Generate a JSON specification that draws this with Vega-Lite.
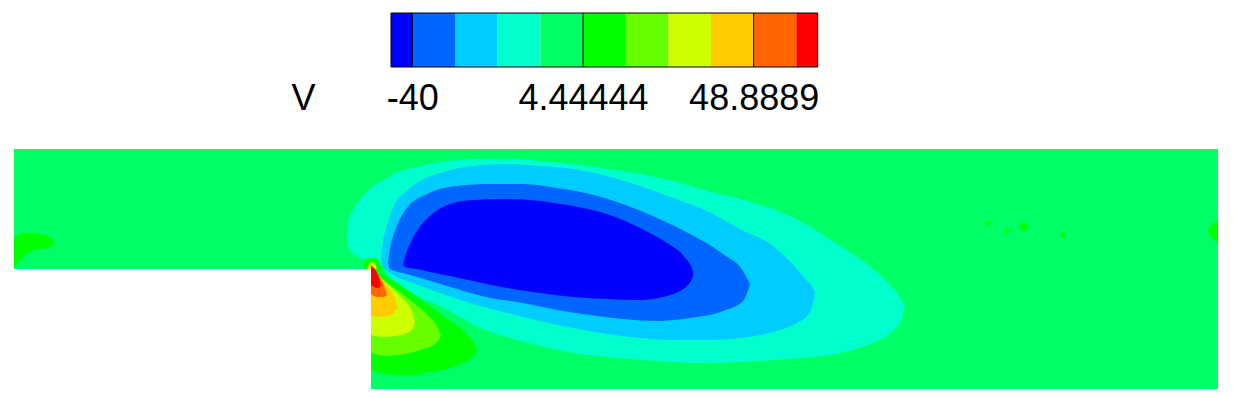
{
  "$schema": "https://vega.github.io/schema/vega-lite/v6.json",
  "background": "white",
  "padding": {"left": 14, "top": 12, "right": 0, "bottom": 0},
  "spacing": 82,
  "bounds": "flush",
  "config": {
    "view": {"stroke": null},
    "font": "Liberation Sans",
    "axisX": {
      "labelFont": "Liberation Sans",
      "labelFontSize": 36,
      "labelColor": "black",
      "labelBaseline": "alphabetic",
      "labelPadding": 42.5,
      "labelFlush": false,
      "labelOverlap": false,
      "labelBound": false,
      "ticks": false,
      "tickSize": 0,
      "domain": false,
      "grid": false,
      "titleFont": "Liberation Sans",
      "titleFontSize": 36,
      "titleFontWeight": "normal",
      "titleColor": "black",
      "titleAngle": 0,
      "titleAlign": "center",
      "titleBaseline": "alphabetic",
      "titleX": 289,
      "titleY": 42.5
    }
  },
  "datasets": {
    "bar": [
      {"band": 1, "v0": -45.556, "v1": -40},
      {"band": 2, "v0": -40, "v1": -28.889},
      {"band": 3, "v0": -28.889, "v1": -17.778},
      {"band": 4, "v0": -17.778, "v1": -6.667},
      {"band": 5, "v0": -6.667, "v1": 4.444},
      {"band": 6, "v0": 4.444, "v1": 15.556},
      {"band": 7, "v0": 15.556, "v1": 26.667},
      {"band": 8, "v0": 26.667, "v1": 37.778},
      {"band": 9, "v0": 37.778, "v1": 48.889},
      {"band": 10, "v0": 48.889, "v1": 60},
      {"band": 11, "v0": 60, "v1": 65.556}
    ],
    "field": [
      {"z": "bg", "b": 5, "x": -35.7, "xe": 0, "y": 12, "y2": 0},
      {"z": "bg", "b": 5, "x": 0, "xe": 84.7, "y": 12, "y2": -12},

      {"z": "aq", "b": 4, "x": -2.43, "y": 3.2, "y2": 3.2},
      {"z": "aq", "b": 4, "x": -2.3, "y": 4.6, "y2": 2.2},
      {"z": "aq", "b": 4, "x": -1.9, "y": 5.7, "y2": 1.7},
      {"z": "aq", "b": 4, "x": -1.3, "y": 6.7, "y2": 1.2},
      {"z": "aq", "b": 4, "x": -0.7, "y": 7.4, "y2": 1.0},
      {"z": "aq", "b": 4, "x": 0, "y": 8.1, "y2": 1.1},
      {"z": "aq", "b": 4, "x": 0.7, "y": 8.6, "y2": 0.9},
      {"z": "aq", "b": 4, "x": 1.2, "y": 8.9, "y2": 0.2},
      {"z": "aq", "b": 4, "x": 1.9, "y": 9.3, "y2": -0.9},
      {"z": "aq", "b": 4, "x": 2.6, "y": 9.7, "y2": -1.7},
      {"z": "aq", "b": 4, "x": 3.6, "y": 10.0, "y2": -2.3},
      {"z": "aq", "b": 4, "x": 4.9, "y": 10.3, "y2": -2.9},
      {"z": "aq", "b": 4, "x": 6.9, "y": 10.7, "y2": -3.7},
      {"z": "aq", "b": 4, "x": 8.9, "y": 10.9, "y2": -4.8},
      {"z": "aq", "b": 4, "x": 10.9, "y": 11.0, "y2": -5.9},
      {"z": "aq", "b": 4, "x": 13.6, "y": 11.0, "y2": -6.8},
      {"z": "aq", "b": 4, "x": 16.9, "y": 10.8, "y2": -7.7},
      {"z": "aq", "b": 4, "x": 20.2, "y": 10.5, "y2": -8.4},
      {"z": "aq", "b": 4, "x": 23.6, "y": 10.0, "y2": -8.8},
      {"z": "aq", "b": 4, "x": 26.9, "y": 9.5, "y2": -9.1},
      {"z": "aq", "b": 4, "x": 30.2, "y": 8.8, "y2": -9.3},
      {"z": "aq", "b": 4, "x": 33.6, "y": 7.8, "y2": -9.4},
      {"z": "aq", "b": 4, "x": 36.9, "y": 7.0, "y2": -9.3},
      {"z": "aq", "b": 4, "x": 41.9, "y": 5.3, "y2": -9.0},
      {"z": "aq", "b": 4, "x": 46.9, "y": 2.3, "y2": -8.4},
      {"z": "aq", "b": 4, "x": 50.2, "y": 0.0, "y2": -7.4},
      {"z": "aq", "b": 4, "x": 51.6, "y": -1.3, "y2": -6.7},
      {"z": "aq", "b": 4, "x": 52.4, "y": -2.2, "y2": -6.0},
      {"z": "aq", "b": 4, "x": 52.9, "y": -2.9, "y2": -5.4},
      {"z": "aq", "b": 4, "x": 53.4, "y": -3.7, "y2": -3.7},

      {"z": "lb", "b": 3, "x": 1.0, "y": 1.2, "y2": 1.2},
      {"z": "lb", "b": 3, "x": 1.2, "y": 2.8, "y2": 0.2},
      {"z": "lb", "b": 3, "x": 1.5, "y": 4.0, "y2": -0.1},
      {"z": "lb", "b": 3, "x": 2.2, "y": 6.1, "y2": -0.6},
      {"z": "lb", "b": 3, "x": 3.9, "y": 8.1, "y2": -1.3},
      {"z": "lb", "b": 3, "x": 6.9, "y": 9.6, "y2": -2.4},
      {"z": "lb", "b": 3, "x": 10.2, "y": 10.3, "y2": -3.5},
      {"z": "lb", "b": 3, "x": 13.6, "y": 10.5, "y2": -4.4},
      {"z": "lb", "b": 3, "x": 16.9, "y": 10.3, "y2": -5.2},
      {"z": "lb", "b": 3, "x": 20.2, "y": 10.0, "y2": -5.9},
      {"z": "lb", "b": 3, "x": 23.6, "y": 9.3, "y2": -6.5},
      {"z": "lb", "b": 3, "x": 26.9, "y": 8.3, "y2": -6.9},
      {"z": "lb", "b": 3, "x": 30.2, "y": 7.1, "y2": -7.1},
      {"z": "lb", "b": 3, "x": 33.6, "y": 5.8, "y2": -7.1},
      {"z": "lb", "b": 3, "x": 36.9, "y": 4.0, "y2": -6.9},
      {"z": "lb", "b": 3, "x": 40.2, "y": 2.3, "y2": -6.3},
      {"z": "lb", "b": 3, "x": 42.6, "y": 0.0, "y2": -5.4},
      {"z": "lb", "b": 3, "x": 43.6, "y": -1.2, "y2": -4.7},
      {"z": "lb", "b": 3, "x": 44.2, "y": -1.9, "y2": -3.4},
      {"z": "lb", "b": 3, "x": 44.4, "y": -2.4, "y2": -2.4},

      {"z": "mb", "b": 2, "x": 1.7, "y": 0.6, "y2": 0.6},
      {"z": "mb", "b": 2, "x": 1.9, "y": 2.0, "y2": 0.0},
      {"z": "mb", "b": 2, "x": 2.4, "y": 3.8, "y2": -0.2},
      {"z": "mb", "b": 2, "x": 3.6, "y": 6.1, "y2": -0.5},
      {"z": "mb", "b": 2, "x": 5.6, "y": 7.5, "y2": -1.1},
      {"z": "mb", "b": 2, "x": 8.6, "y": 8.3, "y2": -2.0},
      {"z": "mb", "b": 2, "x": 11.9, "y": 8.5, "y2": -2.9},
      {"z": "mb", "b": 2, "x": 15.2, "y": 8.5, "y2": -3.4},
      {"z": "mb", "b": 2, "x": 18.6, "y": 8.1, "y2": -4.1},
      {"z": "mb", "b": 2, "x": 21.9, "y": 7.5, "y2": -4.6},
      {"z": "mb", "b": 2, "x": 25.2, "y": 6.5, "y2": -5.0},
      {"z": "mb", "b": 2, "x": 28.6, "y": 5.1, "y2": -5.2},
      {"z": "mb", "b": 2, "x": 31.9, "y": 3.5, "y2": -4.9},
      {"z": "mb", "b": 2, "x": 35.2, "y": 1.5, "y2": -4.2},
      {"z": "mb", "b": 2, "x": 37.2, "y": -0.2, "y2": -3.2},
      {"z": "mb", "b": 2, "x": 37.9, "y": -1.5, "y2": -1.5},

      {"z": "db", "b": 1, "x": 3.2, "y": 0.4, "y2": 0.4},
      {"z": "db", "b": 1, "x": 3.4, "y": 1.2, "y2": 0.2},
      {"z": "db", "b": 1, "x": 3.9, "y": 2.5, "y2": 0.1},
      {"z": "db", "b": 1, "x": 4.6, "y": 3.8, "y2": 0.0},
      {"z": "db", "b": 1, "x": 5.9, "y": 5.3, "y2": -0.3},
      {"z": "db", "b": 1, "x": 7.9, "y": 6.5, "y2": -0.7},
      {"z": "db", "b": 1, "x": 10.2, "y": 6.9, "y2": -1.2},
      {"z": "db", "b": 1, "x": 13.6, "y": 7.0, "y2": -1.9},
      {"z": "db", "b": 1, "x": 16.9, "y": 6.8, "y2": -2.4},
      {"z": "db", "b": 1, "x": 20.2, "y": 6.3, "y2": -2.8},
      {"z": "db", "b": 1, "x": 23.6, "y": 5.5, "y2": -3.0},
      {"z": "db", "b": 1, "x": 26.9, "y": 4.1, "y2": -3.1},
      {"z": "db", "b": 1, "x": 29.6, "y": 2.6, "y2": -2.7},
      {"z": "db", "b": 1, "x": 30.9, "y": 1.7, "y2": -2.2},
      {"z": "db", "b": 1, "x": 31.6, "y": 0.9, "y2": -1.7},
      {"z": "db", "b": 1, "x": 32.0, "y": 0.3, "y2": -1.2},
      {"z": "db", "b": 1, "x": 32.25, "y": -0.5, "y2": -0.5},

      {"z": "fan6", "b": 6, "x": 0, "y": 0.0, "y2": -10.1},
      {"z": "fan6", "b": 6, "x": 0.9, "y": -0.4, "y2": -10.4},
      {"z": "fan6", "b": 6, "x": 2.6, "y": -1.4, "y2": -10.6},
      {"z": "fan6", "b": 6, "x": 4.2, "y": -2.5, "y2": -10.6},
      {"z": "fan6", "b": 6, "x": 5.9, "y": -3.7, "y2": -10.3},
      {"z": "fan6", "b": 6, "x": 7.6, "y": -5.0, "y2": -10.0},
      {"z": "fan6", "b": 6, "x": 9.2, "y": -6.1, "y2": -9.4},
      {"z": "fan6", "b": 6, "x": 9.9, "y": -6.9, "y2": -9.0},
      {"z": "fan6", "b": 6, "x": 10.4, "y": -7.6, "y2": -8.6},
      {"z": "fan6", "b": 6, "x": 10.6, "y": -8.1, "y2": -8.1},

      {"z": "halo6", "b": 6, "x": -0.8, "y": 0, "y2": 0},
      {"z": "halo6", "b": 6, "x": -0.6, "y": 0.7, "y2": 0},
      {"z": "halo6", "b": 6, "x": -0.3, "y": 1.0, "y2": 0},
      {"z": "halo6", "b": 6, "x": 0.1, "y": 1.1, "y2": -0.1},
      {"z": "halo6", "b": 6, "x": 0.5, "y": 1.0, "y2": -0.3},
      {"z": "halo6", "b": 6, "x": 0.8, "y": 0.7, "y2": -0.4},
      {"z": "halo6", "b": 6, "x": 1.0, "y": 0.2, "y2": -0.3},

      {"z": "inlet", "b": 6, "x": -35.7, "y": 3.0, "y2": 0.1},
      {"z": "inlet", "b": 6, "x": -35.3, "y": 3.4, "y2": 0.6},
      {"z": "inlet", "b": 6, "x": -34.4, "y": 3.6, "y2": 1.5},
      {"z": "inlet", "b": 6, "x": -33.1, "y": 3.5, "y2": 2.0},
      {"z": "inlet", "b": 6, "x": -32.1, "y": 3.2, "y2": 2.1},
      {"z": "inlet", "b": 6, "x": -31.6, "y": 2.6, "y2": 2.6},

      {"z": "sp1", "b": 6, "x": 61.4, "y": 4.6, "y2": 4.6},
      {"z": "sp1", "b": 6, "x": 61.7, "y": 4.9, "y2": 4.3},
      {"z": "sp1", "b": 6, "x": 62.0, "y": 4.6, "y2": 4.6},
      {"z": "sp2", "b": 6, "x": 63.3, "y": 3.8, "y2": 3.8},
      {"z": "sp2", "b": 6, "x": 63.6, "y": 4.1, "y2": 3.5},
      {"z": "sp2", "b": 6, "x": 63.9, "y": 3.8, "y2": 3.8},
      {"z": "sp3", "b": 6, "x": 64.8, "y": 4.2, "y2": 4.2},
      {"z": "sp3", "b": 6, "x": 65.3, "y": 4.7, "y2": 3.7},
      {"z": "sp3", "b": 6, "x": 65.8, "y": 4.2, "y2": 4.2},
      {"z": "sp4", "b": 6, "x": 68.9, "y": 3.4, "y2": 3.4},
      {"z": "sp4", "b": 6, "x": 69.2, "y": 3.7, "y2": 3.1},
      {"z": "sp4", "b": 6, "x": 69.5, "y": 3.4, "y2": 3.4},
      {"z": "edge", "b": 6, "x": 83.7, "y": 3.8, "y2": 3.8},
      {"z": "edge", "b": 6, "x": 84.2, "y": 4.6, "y2": 3.0},
      {"z": "edge", "b": 6, "x": 84.7, "y": 4.8, "y2": 2.6},

      {"z": "fan7", "b": 7, "x": 0, "y": 0, "y2": -8.4},
      {"z": "fan7", "b": 7, "x": 1.4, "y": -1.2, "y2": -8.7},
      {"z": "fan7", "b": 7, "x": 2.6, "y": -2.1, "y2": -8.6},
      {"z": "fan7", "b": 7, "x": 3.9, "y": -3.1, "y2": -8.4},
      {"z": "fan7", "b": 7, "x": 4.9, "y": -3.9, "y2": -8.1},
      {"z": "fan7", "b": 7, "x": 5.9, "y": -4.8, "y2": -7.8},
      {"z": "fan7", "b": 7, "x": 6.6, "y": -5.7, "y2": -7.3},
      {"z": "fan7", "b": 7, "x": 7.0, "y": -6.7, "y2": -6.7},

      {"z": "fan8", "b": 8, "x": 0, "y": 0, "y2": -6.6},
      {"z": "fan8", "b": 8, "x": 1.2, "y": -1.1, "y2": -6.8},
      {"z": "fan8", "b": 8, "x": 2.4, "y": -2.2, "y2": -6.7},
      {"z": "fan8", "b": 8, "x": 3.4, "y": -3.2, "y2": -6.5},
      {"z": "fan8", "b": 8, "x": 4.1, "y": -4.2, "y2": -6.1},
      {"z": "fan8", "b": 8, "x": 4.4, "y": -5.3, "y2": -5.3},
      {"z": "halo8", "b": 8, "x": -0.4, "y": 0, "y2": 0},
      {"z": "halo8", "b": 8, "x": -0.2, "y": 0.5, "y2": 0},
      {"z": "halo8", "b": 8, "x": 0.1, "y": 0.7, "y2": 0},
      {"z": "halo8", "b": 8, "x": 0.4, "y": 0.5, "y2": 0},
      {"z": "halo8", "b": 8, "x": 0.6, "y": 0, "y2": 0},

      {"z": "fan9", "b": 9, "x": 0, "y": 0.1, "y2": -4.6},
      {"z": "fan9", "b": 9, "x": 0.9, "y": -0.8, "y2": -4.8},
      {"z": "fan9", "b": 9, "x": 1.7, "y": -1.8, "y2": -4.7},
      {"z": "fan9", "b": 9, "x": 2.3, "y": -2.7, "y2": -4.4},
      {"z": "fan9", "b": 9, "x": 2.7, "y": -3.8, "y2": -3.8},
      {"z": "halo9", "b": 9, "x": -0.15, "y": 0, "y2": 0},
      {"z": "halo9", "b": 9, "x": 0.1, "y": 0.4, "y2": 0},
      {"z": "halo9", "b": 9, "x": 0.35, "y": 0, "y2": 0},

      {"z": "fan10", "b": 10, "x": 0, "y": 0.2, "y2": -2.5},
      {"z": "fan10", "b": 10, "x": 0.6, "y": -0.4, "y2": -2.8},
      {"z": "fan10", "b": 10, "x": 1.2, "y": -1.4, "y2": -2.8},
      {"z": "fan10", "b": 10, "x": 1.6, "y": -2.6, "y2": -2.6},

      {"z": "fan11", "b": 11, "x": 0, "y": 0.3, "y2": -1.6},
      {"z": "fan11", "b": 11, "x": 0.3, "y": 0.1, "y2": -1.8},
      {"z": "fan11", "b": 11, "x": 0.7, "y": -0.6, "y2": -1.9},
      {"z": "fan11", "b": 11, "x": 1.0, "y": -1.6, "y2": -1.6}
    ]
  },
  "vconcat": [
    {
      "width": 1204,
      "height": 54,
      "data": {"name": "bar"},
      "layer": [
        {
          "mark": {"type": "rect"},
          "encoding": {
            "x": {
              "field": "v0", "type": "quantitative", "title": "V",
              "scale": {"domain": [-143.73, 169.8], "nice": false, "zero": false},
              "axis": {
                "values": [-40, 4.44444, 48.8889],
                "labelExpr": "'' + datum.value",
                "title": "V"
              }
            },
            "x2": {"field": "v1"},
            "color": {
              "field": "band", "type": "ordinal",
              "scale": {
                "domain": [1, 2, 3, 4, 5, 6, 7, 8, 9, 10, 11],
                "range": ["#0000FF", "#0066FF", "#00CCFF", "#00FFCC", "#00FF66", "#00FF00", "#66FF00", "#CCFF00", "#FFCC00", "#FF6600", "#FF0000"]
              },
              "legend": null
            }
          }
        },
        {
          "data": {"values": [{"v": -40}, {"v": 4.44444}, {"v": 48.8889}]},
          "mark": {"type": "rule", "color": "black", "strokeWidth": 1},
          "encoding": {"x": {"field": "v", "type": "quantitative", "title": "V"}}
        },
        {
          "data": {"values": [{"v0": -45.556, "v1": 65.556}]},
          "mark": {"type": "rect", "filled": false, "color": "black", "strokeWidth": 1},
          "encoding": {
            "x": {"field": "v0", "type": "quantitative", "title": "V"},
            "x2": {"field": "v1"}
          }
        }
      ]
    },
    {
      "width": 1204,
      "height": 240,
      "data": {"name": "field"},
      "encoding": {
        "x": {"field": "x", "type": "quantitative", "scale": {"domain": [-35.7, 84.7], "nice": false, "zero": false}, "axis": null},
        "y": {"field": "y", "type": "quantitative", "scale": {"domain": [-12, 12], "nice": false, "zero": false}, "axis": null, "stack": null},
        "y2": {"field": "y2"},
        "color": {
          "field": "b", "type": "ordinal",
          "scale": {
            "domain": [1, 2, 3, 4, 5, 6, 7, 8, 9, 10, 11],
            "range": ["#0000FF", "#0066FF", "#00CCFF", "#00FFCC", "#00FF66", "#00FF00", "#66FF00", "#CCFF00", "#FFCC00", "#FF6600", "#FF0000"]
          },
          "legend": null
        },
        "detail": {"field": "z"}
      },
      "layer": [
        {"transform": [{"filter": "datum.b == 5"}], "mark": {"type": "rect"}, "encoding": {"x2": {"field": "xe"}}},
        {"transform": [{"filter": "datum.b == 4"}], "mark": {"type": "area", "interpolate": "monotone"}},
        {"transform": [{"filter": "datum.b == 3"}], "mark": {"type": "area", "interpolate": "monotone"}},
        {"transform": [{"filter": "datum.b == 2"}], "mark": {"type": "area", "interpolate": "monotone"}},
        {"transform": [{"filter": "datum.b == 1"}], "mark": {"type": "area", "interpolate": "monotone"}},
        {"transform": [{"filter": "datum.b == 6"}], "mark": {"type": "area", "interpolate": "monotone"}},
        {"transform": [{"filter": "datum.b == 7"}], "mark": {"type": "area", "interpolate": "monotone"}},
        {"transform": [{"filter": "datum.b == 8"}], "mark": {"type": "area", "interpolate": "monotone"}},
        {"transform": [{"filter": "datum.b == 9"}], "mark": {"type": "area", "interpolate": "monotone"}},
        {"transform": [{"filter": "datum.b == 10"}], "mark": {"type": "area", "interpolate": "monotone"}},
        {"transform": [{"filter": "datum.b == 11"}], "mark": {"type": "area", "interpolate": "monotone"}}
      ]
    }
  ]
}
